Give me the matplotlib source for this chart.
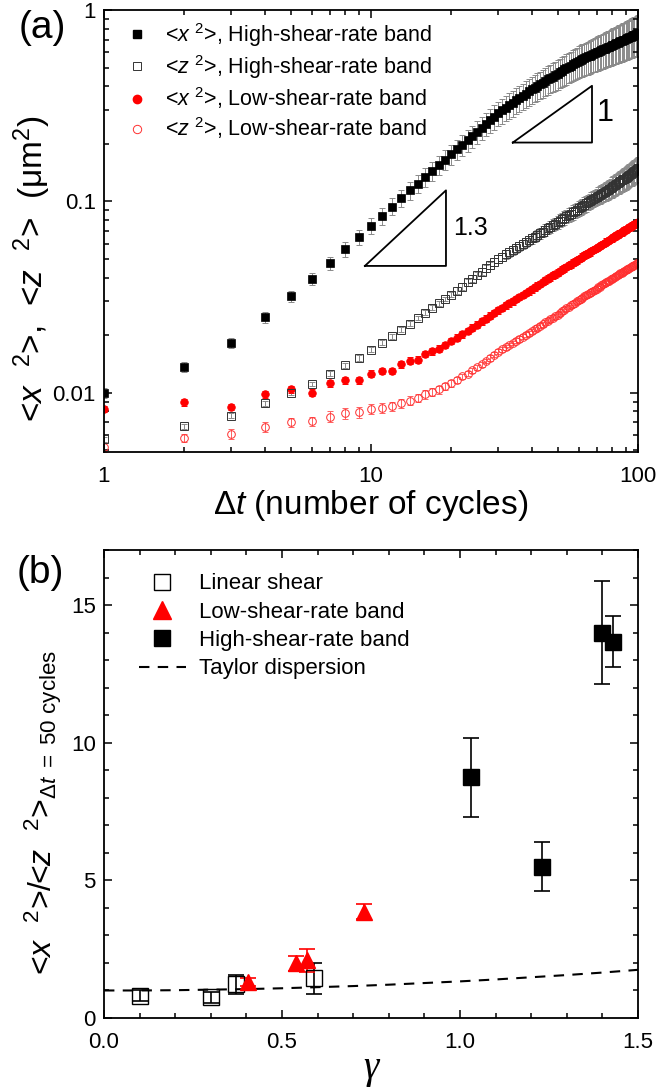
import numpy as np
import matplotlib.pyplot as plt
from matplotlib import ticker

plt.rcParams['font.family'] = ['Liberation Sans', 'DejaVu Sans']
plt.rcParams['mathtext.fontset'] = 'custom'
plt.rcParams['mathtext.rm'] = 'Liberation Sans'
plt.rcParams['mathtext.it'] = 'Liberation Sans:italic'
plt.rcParams['mathtext.bf'] = 'Liberation Sans:bold'

# ---------------- datos panel (a) ----------------
# Delta t en ciclos enteros
dt = np.arange(1, 101)

# <x^2>, banda de alta cizalla
x2_high = [0.0100, 0.0137, 0.0182, 0.0248, 0.0319, 0.0393, 0.0476, 0.0563, 0.0650, 0.0745,
           0.0839, 0.0940, 0.104, 0.114, 0.124, 0.134, 0.1445, 0.155, 0.165, 0.176,
           0.187, 0.198, 0.209, 0.220, 0.231, 0.243, 0.254, 0.266, 0.277, 0.289,
           0.299, 0.308, 0.318, 0.328, 0.337, 0.347, 0.356, 0.366, 0.376, 0.385,
           0.393, 0.401, 0.409, 0.418, 0.426, 0.434, 0.442, 0.449, 0.457, 0.465,
           0.473, 0.481, 0.489, 0.497, 0.505, 0.512, 0.520, 0.528, 0.536, 0.543,
           0.549, 0.555, 0.560, 0.566, 0.572, 0.578, 0.583, 0.589, 0.595, 0.600,
           0.606, 0.611, 0.617, 0.622, 0.628, 0.633, 0.639, 0.644, 0.649, 0.655,
           0.660, 0.665, 0.670, 0.676, 0.681, 0.686, 0.691, 0.696, 0.701, 0.707,
           0.712, 0.717, 0.722, 0.727, 0.732, 0.737, 0.742, 0.747, 0.752, 0.757]
x2_high_err = [0.0006, 0.0008, 0.0011, 0.0016, 0.0022, 0.0029, 0.0038, 0.0048, 0.0059, 0.0071,
               0.0084, 0.0096, 0.0109, 0.0123, 0.0136, 0.0151, 0.0166, 0.0182, 0.0198, 0.0216,
               0.0234, 0.0252, 0.0272, 0.0292, 0.0312, 0.0334, 0.0356, 0.0379, 0.0402, 0.0426,
               0.0449, 0.0465, 0.0487, 0.0505, 0.0522, 0.0545, 0.0562, 0.0582, 0.0605, 0.0624,
               0.0641, 0.0662, 0.0679, 0.0698, 0.0720, 0.0738, 0.0756, 0.0777, 0.0795, 0.0814,
               0.0837, 0.0856, 0.0875, 0.0900, 0.0919, 0.0937, 0.0962, 0.0982, 0.1002, 0.1026,
               0.104, 0.106, 0.108, 0.110, 0.112, 0.113, 0.115, 0.117, 0.119, 0.121,
               0.123, 0.125, 0.126, 0.128, 0.131, 0.132, 0.134, 0.136, 0.138, 0.140,
               0.142, 0.144, 0.146, 0.148, 0.150, 0.152, 0.154, 0.156, 0.158, 0.160,
               0.162, 0.164, 0.166, 0.168, 0.171, 0.172, 0.174, 0.176, 0.179, 0.182]

# <z^2>, banda de alta cizalla
z2_high = [0.0057, 0.0067, 0.0076, 0.0088, 0.0100, 0.0111, 0.0126, 0.0139, 0.0152, 0.0168,
           0.0183, 0.0197, 0.0214, 0.0230, 0.0246, 0.0262, 0.0278, 0.0293, 0.0309, 0.0325,
           0.0342, 0.0359, 0.0377, 0.0394, 0.0412, 0.0429, 0.0447, 0.0464, 0.0482, 0.0500,
           0.0514, 0.0528, 0.0542, 0.0556, 0.0570, 0.0584, 0.0598, 0.0612, 0.0626, 0.0640,
           0.0654, 0.0668, 0.0682, 0.0696, 0.0710, 0.0724, 0.0738, 0.0752, 0.0766, 0.0780,
           0.0794, 0.0808, 0.0822, 0.0836, 0.0850, 0.0864, 0.0878, 0.0892, 0.0906, 0.0920,
           0.0934, 0.0948, 0.0962, 0.0976, 0.0990, 0.1004, 0.1018, 0.1032, 0.1046, 0.1060,
           0.1073, 0.1086, 0.1099, 0.1112, 0.1125, 0.1138, 0.1151, 0.1164, 0.1177, 0.1190,
           0.1204, 0.1218, 0.1232, 0.1246, 0.1260, 0.1274, 0.1288, 0.1302, 0.1316, 0.1330,
           0.1346, 0.1362, 0.1378, 0.1394, 0.1410, 0.1426, 0.1442, 0.1458, 0.1474, 0.1490]
z2_high_err = [0.0002, 0.0002, 0.0002, 0.0003, 0.0003, 0.0003, 0.0004, 0.0004, 0.0005, 0.0005,
               0.0005, 0.0006, 0.0006, 0.0007, 0.0007, 0.0008, 0.0008, 0.0009, 0.0009, 0.0010,
               0.0014, 0.0015, 0.0016, 0.0017, 0.0018, 0.0019, 0.0020, 0.0021, 0.0023, 0.0025,
               0.0026, 0.0027, 0.0028, 0.0030, 0.0031, 0.0032, 0.0034, 0.0035, 0.0037, 0.0038,
               0.0040, 0.0042, 0.0044, 0.0046, 0.0048, 0.0050, 0.0052, 0.0054, 0.0056, 0.0059,
               0.0061, 0.0063, 0.0065, 0.0068, 0.0070, 0.0073, 0.0075, 0.0078, 0.0080, 0.0083,
               0.0085, 0.0087, 0.0089, 0.0091, 0.0093, 0.0095, 0.0097, 0.0100, 0.0102, 0.0106,
               0.0109, 0.0113, 0.0116, 0.0120, 0.0124, 0.0128, 0.0132, 0.0136, 0.0140, 0.0143,
               0.0147, 0.0150, 0.0154, 0.0157, 0.0161, 0.0165, 0.0169, 0.0173, 0.0177, 0.0180,
               0.0184, 0.0188, 0.0192, 0.0196, 0.0200, 0.0204, 0.0208, 0.0212, 0.0217, 0.0224]

# <x^2>, banda de baja cizalla
x2_low = [0.0082, 0.0089, 0.0084, 0.0098, 0.0104, 0.0100, 0.0112, 0.0116, 0.0116, 0.0126,
          0.0130, 0.0130, 0.0141, 0.0147, 0.0149, 0.0159, 0.0165, 0.0170, 0.0178, 0.0186,
          0.0194, 0.0202, 0.0211, 0.0219, 0.0227, 0.0236, 0.0244, 0.0253, 0.0261, 0.0270,
          0.0278, 0.0286, 0.0294, 0.0301, 0.0309, 0.0317, 0.0325, 0.0333, 0.0340, 0.0348,
          0.0356, 0.0363, 0.0371, 0.0379, 0.0387, 0.0394, 0.0402, 0.0410, 0.0417, 0.0425,
          0.0433, 0.0440, 0.0448, 0.0455, 0.0463, 0.0470, 0.0478, 0.0485, 0.0493, 0.0500,
          0.0507, 0.0514, 0.0522, 0.0529, 0.0536, 0.0543, 0.0550, 0.0558, 0.0565, 0.0572,
          0.0579, 0.0586, 0.0593, 0.0600, 0.0607, 0.0615, 0.0622, 0.0629, 0.0636, 0.0643,
          0.0650, 0.0657, 0.0664, 0.0671, 0.0678, 0.0684, 0.0691, 0.0698, 0.0705, 0.0712,
          0.0719, 0.0726, 0.0732, 0.0739, 0.0746, 0.0753, 0.0760, 0.0766, 0.0773, 0.0780]
x2_low_err = [0.0003, 0.0004, 0.0003, 0.0004, 0.0004, 0.0004, 0.0005, 0.0005, 0.0005, 0.0005,
              0.0005, 0.0005, 0.0006, 0.0006, 0.0006, 0.0006, 0.0007, 0.0007, 0.0007, 0.0007,
              0.0008, 0.0008, 0.0008, 0.0009, 0.0009, 0.0009, 0.0010, 0.0010, 0.0010, 0.0011,
              0.0011, 0.0011, 0.0012, 0.0012, 0.0012, 0.0013, 0.0013, 0.0013, 0.0014, 0.0014,
              0.0014, 0.0015, 0.0015, 0.0015, 0.0015, 0.0016, 0.0016, 0.0016, 0.0017, 0.0017,
              0.0017, 0.0018, 0.0018, 0.0018, 0.0019, 0.0019, 0.0019, 0.0019, 0.0020, 0.0020,
              0.0020, 0.0021, 0.0021, 0.0021, 0.0021, 0.0022, 0.0022, 0.0022, 0.0023, 0.0023,
              0.0023, 0.0023, 0.0024, 0.0024, 0.0024, 0.0025, 0.0025, 0.0025, 0.0025, 0.0026,
              0.0026, 0.0026, 0.0027, 0.0027, 0.0027, 0.0027, 0.0028, 0.0028, 0.0028, 0.0028,
              0.0029, 0.0029, 0.0029, 0.0030, 0.0030, 0.0030, 0.0030, 0.0031, 0.0031, 0.0031]

# <z^2>, banda de baja cizalla
z2_low = [0.0052, 0.0058, 0.0061, 0.0066, 0.0070, 0.0071, 0.0075, 0.0078, 0.0079, 0.0082,
          0.0083, 0.0085, 0.0088, 0.0091, 0.0094, 0.0098, 0.0101, 0.0104, 0.0108, 0.0112,
          0.0117, 0.0122, 0.0126, 0.0131, 0.0136, 0.0141, 0.0147, 0.0152, 0.0158, 0.0164,
          0.0169, 0.0173, 0.0178, 0.0182, 0.0187, 0.0191, 0.0196, 0.0201, 0.0205, 0.0210,
          0.0215, 0.0219, 0.0224, 0.0228, 0.0233, 0.0238, 0.0242, 0.0247, 0.0251, 0.0256,
          0.0261, 0.0266, 0.0271, 0.0276, 0.0281, 0.0286, 0.0291, 0.0295, 0.0300, 0.0305,
          0.0310, 0.0314, 0.0319, 0.0323, 0.0328, 0.0332, 0.0337, 0.0341, 0.0346, 0.0350,
          0.0355, 0.0359, 0.0364, 0.0368, 0.0373, 0.0377, 0.0382, 0.0386, 0.0391, 0.0395,
          0.0399, 0.0403, 0.0408, 0.0412, 0.0416, 0.0420, 0.0424, 0.0429, 0.0433, 0.0437,
          0.0441, 0.0445, 0.0449, 0.0453, 0.0458, 0.0462, 0.0466, 0.0470, 0.0474, 0.0478]
z2_low_err = [0.0003, 0.0003, 0.0004, 0.0004, 0.0004, 0.0004, 0.0005, 0.0005, 0.0005, 0.0005,
              0.0005, 0.0005, 0.0005, 0.0005, 0.0005, 0.0005, 0.0005, 0.0005, 0.0005, 0.0005,
              0.0004, 0.0004, 0.0004, 0.0004, 0.0004, 0.0004, 0.0004, 0.0005, 0.0005, 0.0005,
              0.0005, 0.0005, 0.0005, 0.0005, 0.0006, 0.0006, 0.0006, 0.0006, 0.0006, 0.0006,
              0.0006, 0.0007, 0.0007, 0.0007, 0.0007, 0.0007, 0.0007, 0.0007, 0.0008, 0.0008,
              0.0008, 0.0008, 0.0008, 0.0008, 0.0008, 0.0009, 0.0009, 0.0009, 0.0009, 0.0009,
              0.0009, 0.0009, 0.0009, 0.0010, 0.0010, 0.0010, 0.0010, 0.0010, 0.0010, 0.0010,
              0.0011, 0.0011, 0.0011, 0.0011, 0.0011, 0.0011, 0.0011, 0.0012, 0.0012, 0.0012,
              0.0012, 0.0012, 0.0012, 0.0012, 0.0012, 0.0013, 0.0013, 0.0013, 0.0013, 0.0013,
              0.0013, 0.0013, 0.0013, 0.0014, 0.0014, 0.0014, 0.0014, 0.0014, 0.0014, 0.0014]

# ---------------- datos panel (b) ----------------
lin_gamma = [0.10, 0.30, 0.37, 0.59]
lin_ratio = [0.80, 0.75, 1.22, 1.44]
lin_err = [0.20, 0.20, 0.36, 0.57]

low_gamma = [0.405, 0.54, 0.57, 0.73]
low_ratio = [1.32, 1.99, 2.10, 3.86]
low_err = [0.15, 0.28, 0.42, 0.27]

high_gamma = [1.03, 1.23, 1.40, 1.43]
high_ratio = [8.74, 5.50, 14.0, 13.67]
high_err = [1.45, 0.90, 1.88, 0.93]

taylor_gamma = [0.0, 0.1, 0.2, 0.3, 0.4, 0.5, 0.6, 0.7, 0.8, 0.9, 1.0, 1.1, 1.2, 1.3, 1.4, 1.5]
taylor_ratio = [1.00, 1.00, 1.01, 1.03, 1.05, 1.08, 1.12, 1.16, 1.21, 1.27, 1.33, 1.40, 1.48, 1.56, 1.65, 1.75]

RED = '#ff0000'
GREY = '#8a8a8a'

fig = plt.figure(figsize=(6.59, 10.89), dpi=100)

# ================= panel (a) =================
ax1 = fig.add_axes([0.1578, 0.5849, 0.8102, 0.4059])

ax1.errorbar(dt, z2_low, yerr=z2_low_err, fmt='none', ecolor='#ff6060',
             elinewidth=0.7, capsize=2.5, capthick=0.7, zorder=1)
ax1.plot(dt, z2_low, ls='none', marker='o', ms=5.5, mfc='none', mec='#ff3030',
         mew=0.7, zorder=2)
ax1.errorbar(dt, x2_low, yerr=x2_low_err, fmt='none', ecolor=RED,
             elinewidth=0.7, capsize=2.5, capthick=0.7, zorder=1)
ax1.plot(dt, x2_low, ls='none', marker='o', ms=5.5, mfc=RED, mec=RED,
         mew=0.5, zorder=2)
ax1.errorbar(dt, z2_high, yerr=z2_high_err, fmt='none', ecolor=GREY,
             elinewidth=0.7, capsize=2.5, capthick=0.7, zorder=1)
ax1.plot(dt, z2_high, ls='none', marker='s', ms=5.5, mfc='none', mec='#333333',
         mew=0.7, zorder=2)
ax1.errorbar(dt, x2_high, yerr=x2_high_err, fmt='none', ecolor=GREY,
             elinewidth=0.7, capsize=2.5, capthick=0.7, zorder=1)
ax1.plot(dt, x2_high, ls='none', marker='s', ms=5.5, mfc='black', mec='black',
         mew=0.5, zorder=3)

# Leyenda (solo marcadores)
h1, = ax1.plot([], [], ls='none', marker='s', ms=5.5, mfc='black', mec='black')
h2, = ax1.plot([], [], ls='none', marker='s', ms=5.5, mfc='none', mec='#333333', mew=0.7)
h3, = ax1.plot([], [], ls='none', marker='o', ms=6, mfc=RED, mec=RED)
h4, = ax1.plot([], [], ls='none', marker='o', ms=6, mfc='none', mec='#ff3030', mew=0.7)
ax1.legend([h1, h2, h3, h4],
           ['<$x$ $^2$>, High-shear-rate band', '<$z$ $^2$>, High-shear-rate band',
            '<$x$ $^2$>, Low-shear-rate band', '<$z$ $^2$>, Low-shear-rate band'],
           loc='upper left', bbox_to_anchor=(0.026, 0.995), frameon=False,
           fontsize=15.5, handlelength=1.0, handletextpad=0.8, labelspacing=0.2,
           borderaxespad=0.0)

# Triángulos de pendiente
x0, x1, y0 = 9.49, 19.1, 0.046
ax1.plot([x0, x1, x1, x0], [y0, y0, y0 * (x1 / x0) ** 1.3, y0], color='black', lw=1.3)
ax1.text(23.5, 0.0727, '1.3', fontsize=18, ha='center', va='center')
x0, x1, y0 = 34.0, 67.3, 0.203
ax1.plot([x0, x1, x1, x0], [y0, y0, y0 * (x1 / x0), y0], color='black', lw=1.3)
ax1.text(75.2, 0.29, '1', fontsize=22, ha='center', va='center')

ax1.set_xscale('log')
ax1.set_yscale('log')
ax1.set_xlim(1, 100)
ax1.set_ylim(0.0049, 1)
fmt = ticker.FuncFormatter(lambda v, p: '{:g}'.format(v))
ax1.xaxis.set_major_formatter(fmt)
ax1.yaxis.set_major_formatter(fmt)
ax1.xaxis.set_minor_formatter(ticker.NullFormatter())
ax1.yaxis.set_minor_formatter(ticker.NullFormatter())
ax1.set_xlabel('Δ$t$ (number of cycles)', fontsize=24, labelpad=1)
ax1.set_ylabel('<$x$  $^2$>,  <$z$  $^2$>  (μm$^2$)', fontsize=24)
ax1.yaxis.set_label_coords(-0.095, 0.414)

# ================= panel (b) =================
ax2 = fig.add_axes([0.1578, 0.0652, 0.8102, 0.4297])

ax2.plot(taylor_gamma, taylor_ratio, color='black', lw=1.5, ls='--', dashes=(5, 4), zorder=1)
ax2.errorbar(lin_gamma, lin_ratio, yerr=lin_err, fmt='none', ecolor='black',
             elinewidth=1.2, capsize=6, capthick=1.2, zorder=2)
ax2.plot(lin_gamma, lin_ratio, ls='none', marker='s', ms=11, mfc='none', mec='black',
         mew=1.0, zorder=3)
ax2.errorbar(low_gamma, low_ratio, yerr=low_err, fmt='none', ecolor=RED,
             elinewidth=1.2, capsize=6, capthick=1.2, zorder=2)
ax2.plot(low_gamma, low_ratio, ls='none', marker='^', ms=12, mfc=RED, mec=RED, zorder=3)
ax2.errorbar(high_gamma, high_ratio, yerr=high_err, fmt='none', ecolor='black',
             elinewidth=1.2, capsize=6, capthick=1.2, zorder=2)
ax2.plot(high_gamma, high_ratio, ls='none', marker='s', ms=11, mfc='black', mec='black', zorder=3)

g1, = ax2.plot([], [], ls='none', marker='s', ms=11, mfc='none', mec='black', mew=1.0)
g2, = ax2.plot([], [], ls='none', marker='^', ms=13, mfc=RED, mec=RED)
g3, = ax2.plot([], [], ls='none', marker='s', ms=11, mfc='black', mec='black')
g4, = ax2.plot([], [], color='black', lw=1.5, ls='--', dashes=(5, 4))
ax2.legend([g1, g2, g3, g4],
           ['Linear shear', 'Low-shear-rate band', 'High-shear-rate band', 'Taylor dispersion'],
           loc='upper left', bbox_to_anchor=(0.049, 0.969), frameon=False,
           fontsize=16, handlelength=2.1, handletextpad=0.6, labelspacing=0.33,
           borderaxespad=0.0)

ax2.set_xlim(0, 1.5)
ax2.set_ylim(0, 17)
ax2.xaxis.set_major_locator(ticker.MultipleLocator(0.5))
ax2.xaxis.set_minor_locator(ticker.MultipleLocator(0.1))
ax2.yaxis.set_major_locator(ticker.MultipleLocator(5))
ax2.yaxis.set_minor_locator(ticker.MultipleLocator(1))
ax2.xaxis.set_major_formatter(ticker.FormatStrFormatter('%.1f'))
ax2.set_xlabel('γ', fontsize=28, fontstyle='italic',
               family=['Liberation Serif', 'DejaVu Serif'], labelpad=-2)
ax2.set_ylabel('<$x$  $^2$>/<$z$  $^2$>$_{\\Delta t\\ =\\ 50\\ \\mathrm{cycles}}$',
               fontsize=23)
ax2.yaxis.set_label_coords(-0.075, 0.44)

for ax in (ax1, ax2):
    ax.tick_params(which='both', direction='in', top=True, right=True, labelsize=16,
                   width=1.1, pad=10)
    ax.tick_params(which='major', length=6)
    ax.tick_params(which='minor', length=3.5)
    for s in ax.spines.values():
        s.set_linewidth(1.3)
ax1.tick_params(axis='y', pad=6)
ax2.tick_params(axis='y', pad=6)

fig.text(0.028, 0.974, '(a)', fontsize=28, va='center', ha='left')
fig.text(0.025, 0.474, '(b)', fontsize=28, va='center', ha='left')

fig.savefig('out.png', dpi=100)
